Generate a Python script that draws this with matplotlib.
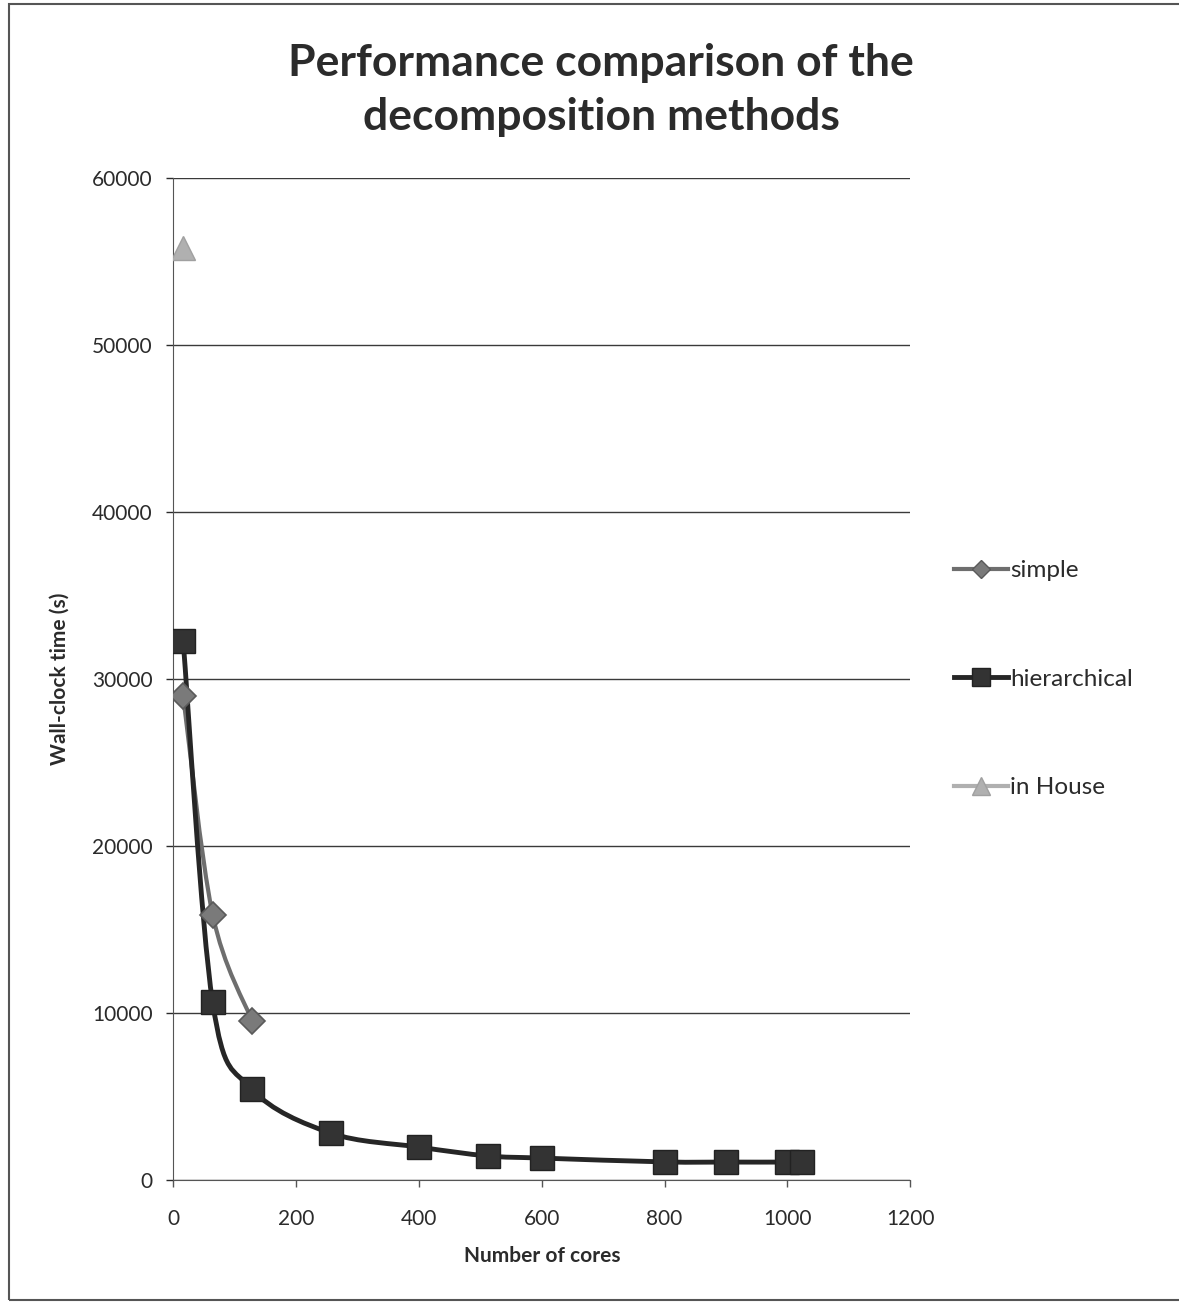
import numpy as np
import matplotlib.pyplot as plt
from matplotlib.path import Path
from matplotlib.patches import PathPatch, Rectangle

plt.rcParams['font.family'] = ['Lato', 'DejaVu Sans']

# wall-clock times (s) per number of cores
simple_cores = [16, 64, 128]
simple_time = [29000, 15900, 9550]

hier_cores = [16, 64, 128, 256, 400, 512, 600, 800, 900, 1000, 1024]
hier_time = [32300, 10650, 5450, 2820, 1980, 1450, 1320, 1090, 1080, 1080, 1100]

inhouse_cores = [16]
inhouse_time = [55800]

x_ticks = [0, 200, 400, 600, 800, 1000, 1200]
y_ticks = [0, 10000, 20000, 30000, 40000, 50000, 60000]


def smooth_path(xs, ys):
    # Catmull-Rom style cubic Bezier through the points (like Excel's smoothed line)
    pts = np.column_stack([xs, ys]).astype(float)
    n = len(pts)
    verts = [pts[0]]
    codes = [Path.MOVETO]
    for i in range(n - 1):
        p0 = pts[i - 1] if i > 0 else pts[i]
        p1 = pts[i]
        p2 = pts[i + 1]
        p3 = pts[i + 2] if i + 2 < n else pts[i + 1]
        c1 = p1 + (p2 - p0) / 6.0
        c2 = p2 - (p3 - p1) / 6.0
        verts += [c1, c2, p2]
        codes += [Path.CURVE4] * 3
    return Path(verts, codes)


fig = plt.figure(figsize=(11.79, 13.04), dpi=100)
ax = fig.add_axes([0.147, 0.095, 0.625, 0.7685])

text_col = '#2b2b2b'

# smoothed lines
ax.add_patch(PathPatch(smooth_path(simple_cores, simple_time), facecolor='none',
                       edgecolor='#6e6e6e', lw=3, zorder=3))
ax.add_patch(PathPatch(smooth_path(hier_cores, hier_time), facecolor='none',
                       edgecolor='#262626', lw=3.5, zorder=4))

# markers
ax.plot(simple_cores, simple_time, ls='none', marker='D', ms=13,
        mfc='#7a7a7a', mec='#5a5a5a', mew=1.2, zorder=5)
ax.plot(hier_cores, hier_time, ls='none', marker='s', ms=17,
        mfc='#333333', mec='#222222', mew=1, zorder=6)
ax.plot(inhouse_cores, inhouse_time, ls='none', marker='^', ms=17,
        mfc='#b0b0b0', mec='#a0a0a0', zorder=5)

# legend handles
ax.plot([], [], color='#6e6e6e', lw=3, marker='D', ms=9, mfc='#7a7a7a',
        mec='#5a5a5a', label='simple')
ax.plot([], [], color='#262626', lw=3.5, marker='s', ms=13, mfc='#333333',
        mec='#222222', label='hierarchical')
ax.plot([], [], color='#b0b0b0', lw=3, marker='^', ms=13, mfc='#b0b0b0',
        mec='#a0a0a0', label='in House')

ax.set_xlim(0, 1200)
ax.set_ylim(0, 60000)
ax.set_xticks(x_ticks)
ax.set_yticks(y_ticks)
ax.tick_params(axis='both', labelsize=15, colors=text_col, length=5,
               width=1, direction='out')
ax.tick_params(axis='x', colors='#555555', labelcolor=text_col, pad=16)
ax.tick_params(axis='y', pad=10)
ax.grid(axis='y', color='#3a3a3a', lw=1)
ax.set_axisbelow(True)
for s in ['top', 'right']:
    ax.spines[s].set_visible(False)
ax.spines['left'].set_color('#555555')
ax.spines['bottom'].set_color('#555555')
ax.spines['bottom'].set_linestyle((0, (2, 1)))

ax.set_xlabel('Number of cores', fontsize=15, fontweight='bold',
              color=text_col, labelpad=12)
ax.set_ylabel('Wall-clock time (s)', fontsize=15, fontweight='bold',
              color=text_col, labelpad=16)

fig.text(0.51, 0.931, 'Performance comparison of the\ndecomposition methods',
         ha='center', va='center', fontsize=32, fontweight='bold',
         color=text_col, linespacing=1.45)

ax.legend(loc='center left', bbox_to_anchor=(1.03, 0.5), frameon=False,
          fontsize=17.5, labelspacing=3.6, handlelength=2.2, handletextpad=0.1,
          labelcolor=text_col)

# outer chart border (right edge falls outside the figure)
fig.patches.append(Rectangle((0.008, 0.003), 1.2, 0.994, transform=fig.transFigure,
                             fill=False, edgecolor='#555555', lw=1.5))

fig.savefig('out.png', dpi=100)
